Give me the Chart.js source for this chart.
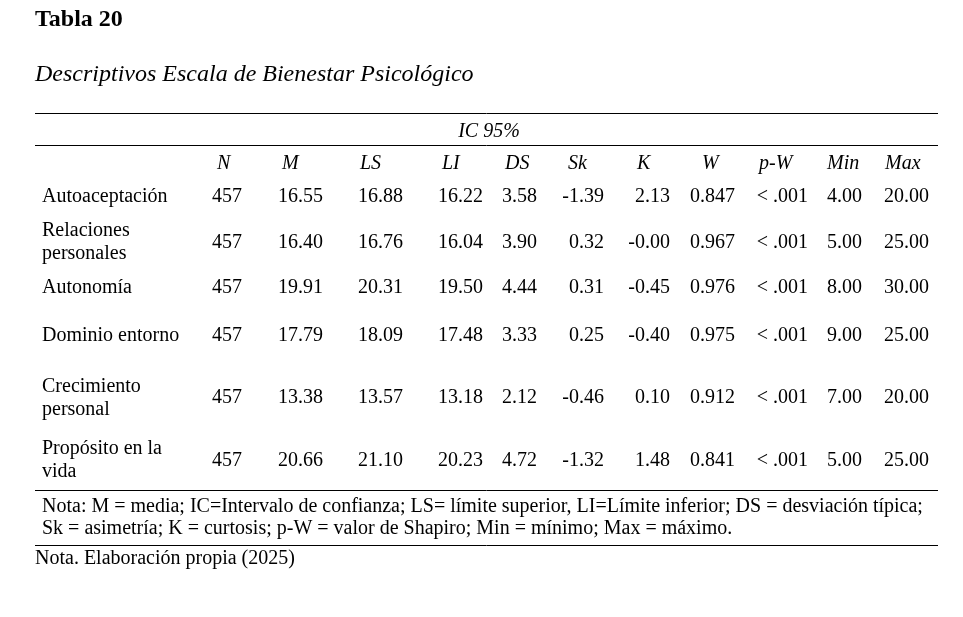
<!DOCTYPE html>
<html lang="es">
<head>
<meta charset="utf-8">
<title>Tabla 20</title>
<script src="https://cdn.jsdelivr.net/npm/chart.js@4.4.1/dist/chart.umd.min.js"></script>
<style>
  html, body { margin: 0; padding: 0; background: #fff; }
  #tabla { display: block; }
</style>
</head>
<body>
<canvas id="tabla" width="963" height="617"></canvas>
<script>
// Datos de la tabla
const categories = ["Autoaceptación", "Relaciones personales", "Autonomía", "Dominio entorno", "Crecimiento personal", "Propósito en la vida"];
const headers = ["N", "M", "LS", "LI", "DS", "Sk", "K", "W", "p-W", "Min", "Max"];
const nValues = [457, 457, 457, 457, 457, 457];
const mValues = [16.55, 16.40, 19.91, 17.79, 13.38, 20.66];
const lsValues = [16.88, 16.76, 20.31, 18.09, 13.57, 21.10];
const liValues = [16.22, 16.04, 19.50, 17.48, 13.18, 20.23];
const dsValues = [3.58, 3.90, 4.44, 3.33, 2.12, 4.72];
const skValues = [-1.39, 0.32, 0.31, 0.25, -0.46, -1.32];
const kValues = [2.13, -0.003, -0.45, -0.40, 0.10, 1.48];
const wValues = [0.847, 0.967, 0.976, 0.975, 0.912, 0.841];
const pwValues = ["< .001", "< .001", "< .001", "< .001", "< .001", "< .001"];
const minValues = [4.00, 5.00, 8.00, 9.00, 7.00, 5.00];
const maxValues = [20.00, 25.00, 30.00, 25.00, 20.00, 25.00];

const tableTitle = "Tabla 20";
const tableSubtitle = "Descriptivos Escala de Bienestar Psicológico";
const spanLabel = "IC 95%";
const noteLines = [
  "Nota: M = media; IC=Intervalo de confianza; LS= límite superior, LI=Límite inferior; DS = desviación típica;",
  "Sk = asimetría; K = curtosis; p-W = valor de Shapiro; Min = mínimo; Max = máximo."
];
const sourceLine = "Nota. Elaboración propia (2025)";

const columns = [
  { values: nValues, digits: 0 },
  { values: mValues, digits: 2 },
  { values: lsValues, digits: 2 },
  { values: liValues, digits: 2 },
  { values: dsValues, digits: 2 },
  { values: skValues, digits: 2 },
  { values: kValues, digits: 2 },
  { values: wValues, digits: 3 },
  { values: pwValues, digits: null },
  { values: minValues, digits: 2 },
  { values: maxValues, digits: 2 }
];

// Layout (pixels)
const FONT = '"Liberation Serif", "Times New Roman", serif';
const headerLeft = [217, 282, 360, 442, 505, 568, 637, 702, 759, 827, 885];
const valueRight = [242, 323, 403, 483, 537, 604, 670, 735, 808, 862, 929];
const rowBaseline = [202, 247.5, 293, 341, 403, 465.5];

function fmt(v, d) {
  return d === null ? v : v.toFixed(d);
}

function wrap(ctx, text, maxW) {
  const words = text.split(" ");
  const lines = [];
  let cur = "";
  words.forEach((w) => {
    const test = cur ? cur + " " + w : w;
    if (ctx.measureText(test).width > maxW && cur) {
      lines.push(cur);
      cur = w;
    } else {
      cur = test;
    }
  });
  lines.push(cur);
  return lines;
}

const tablePlugin = {
  id: "apaTable",
  afterDraw(chart) {
    const ctx = chart.ctx;
    ctx.save();
    ctx.fillStyle = "#000";
    ctx.strokeStyle = "#000";
    ctx.textBaseline = "alphabetic";

    // Titulos
    ctx.font = "bold 24px " + FONT;
    ctx.textAlign = "left";
    ctx.fillText(tableTitle, 35, 26);
    ctx.font = "italic 24px " + FONT;
    ctx.fillText(tableSubtitle, 35, 81);

    // Lineas horizontales
    ctx.lineWidth = 1;
    [113.5, 145.5, 490.5, 545.5].forEach((y) => {
      ctx.beginPath();
      ctx.moveTo(35, y);
      ctx.lineTo(938, y);
      ctx.stroke();
    });

    // Encabezados
    ctx.font = "italic 20px " + FONT;
    ctx.textAlign = "center";
    ctx.fillText(spanLabel, 489, 137);
    ctx.textAlign = "left";
    headers.forEach((h, i) => ctx.fillText(h, headerLeft[i], 169));

    // Filas
    ctx.font = "20px " + FONT;
    categories.forEach((cat, r) => {
      const y = rowBaseline[r];
      const lines = wrap(ctx, cat, 146);
      const lh = 23;
      const y0 = y - (lines.length - 1) * lh / 2;
      ctx.textAlign = "left";
      lines.forEach((ln, k) => ctx.fillText(ln, 42, y0 + k * lh));
      ctx.textAlign = "right";
      columns.forEach((col, c) => {
        ctx.fillText(fmt(col.values[r], col.digits), valueRight[c], y);
      });
    });

    // Notas
    ctx.textAlign = "left";
    noteLines.forEach((ln, k) => ctx.fillText(ln, 42, 512 + k * 22));
    ctx.fillText(sourceLine, 35, 564);
    ctx.restore();
  }
};

new Chart(document.getElementById("tabla").getContext("2d"), {
  type: "bar",
  data: {
    labels: categories,
    datasets: [{ label: "M", data: [], backgroundColor: "rgba(0,0,0,0)" }]
  },
  options: {
    responsive: false,
    animation: false,
    events: [],
    layout: { padding: 0 },
    scales: { x: { display: false }, y: { display: false } },
    plugins: { legend: { display: false }, tooltip: { enabled: false } }
  },
  plugins: [tablePlugin]
});
</script>
</body>
</html>
